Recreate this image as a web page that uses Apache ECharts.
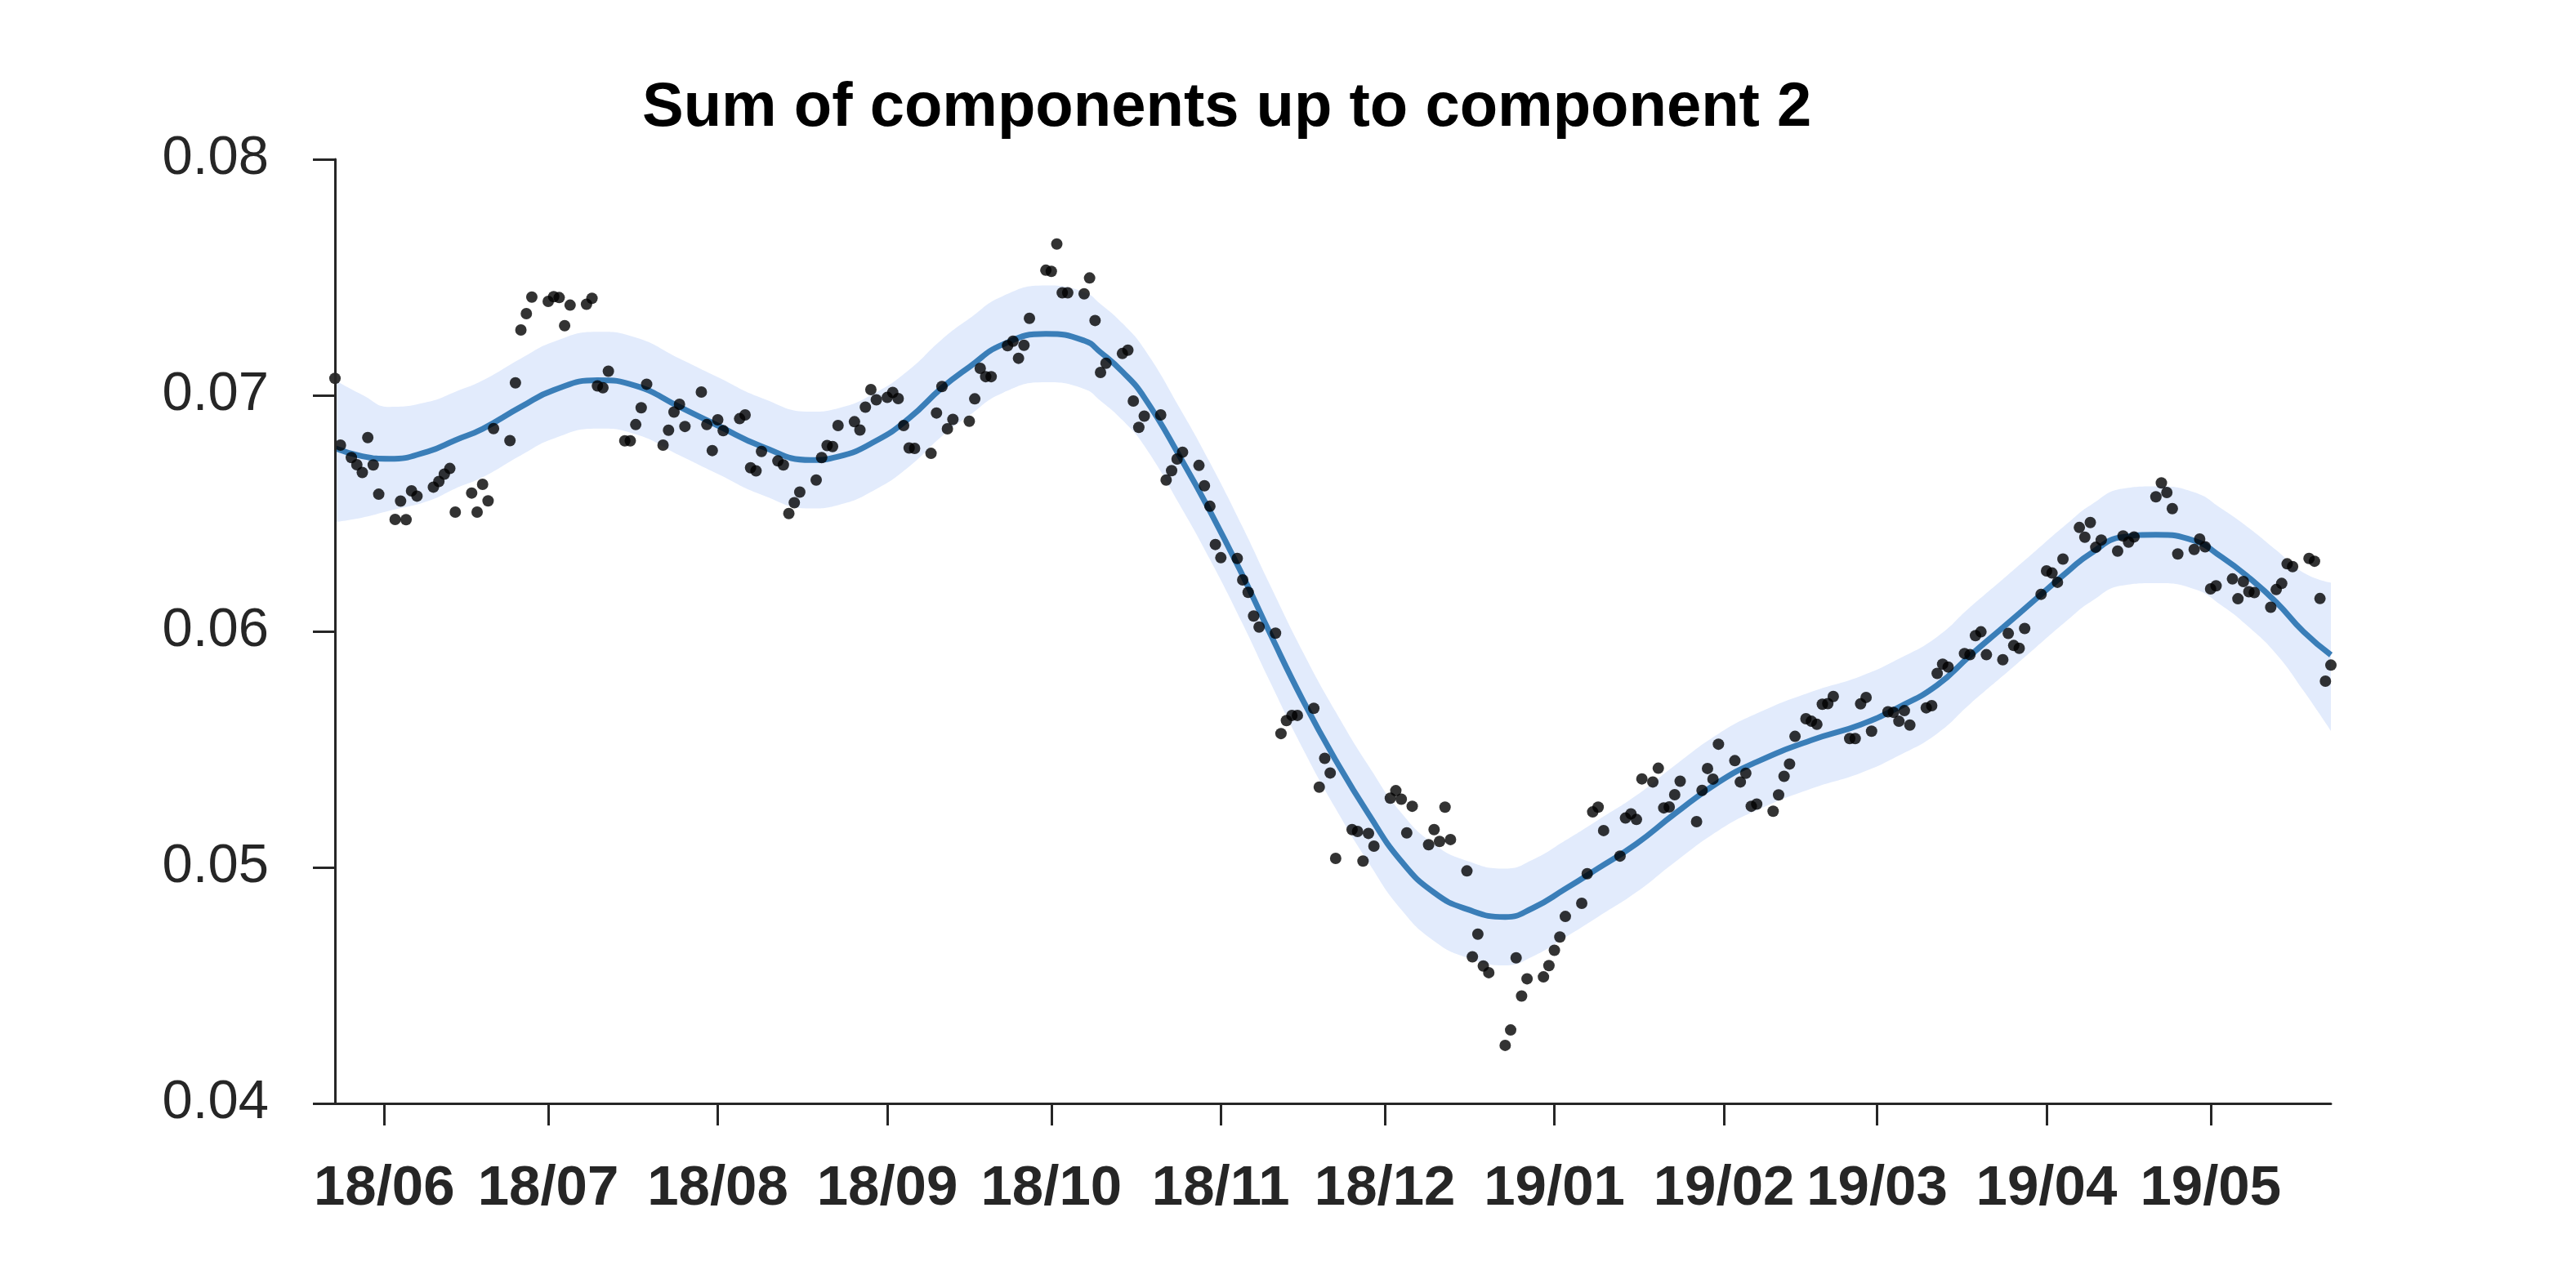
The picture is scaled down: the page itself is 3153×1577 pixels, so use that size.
<!DOCTYPE html>
<html>
<head>
<meta charset="utf-8">
<script src="https://cdn.jsdelivr.net/npm/echarts@6/dist/echarts.min.js"></script>
<style>
html,body{margin:0;padding:0;background:#ffffff;}
#chart{width:3153px;height:1577px;}
</style>
</head>
<body>
<div id="chart"></div>
<script>
// ---------- data ----------
const titleText = 'Sum of components up to component 2';

const obsDates = [
'2018-05-23','2018-05-24','2018-05-26','2018-05-27','2018-05-28','2018-05-29','2018-05-30','2018-05-31',
'2018-06-03','2018-06-04','2018-06-05','2018-06-06','2018-06-07',
'2018-06-10','2018-06-11','2018-06-12','2018-06-13','2018-06-14',
'2018-06-17','2018-06-18','2018-06-19','2018-06-20','2018-06-21',
'2018-06-24','2018-06-25','2018-06-26','2018-06-27','2018-06-28',
'2018-07-01','2018-07-02','2018-07-03','2018-07-04','2018-07-05',
'2018-07-08','2018-07-09','2018-07-10','2018-07-11','2018-07-12',
'2018-07-15','2018-07-16','2018-07-17','2018-07-18','2018-07-19',
'2018-07-22','2018-07-23','2018-07-24','2018-07-25','2018-07-26',
'2018-07-29','2018-07-30','2018-07-31','2018-08-01','2018-08-02',
'2018-08-05','2018-08-06','2018-08-07','2018-08-08','2018-08-09',
'2018-08-12','2018-08-13','2018-08-14','2018-08-15','2018-08-16',
'2018-08-19','2018-08-20','2018-08-21','2018-08-22','2018-08-23',
'2018-08-26','2018-08-27','2018-08-28','2018-08-29','2018-08-30',
'2018-09-01','2018-09-02','2018-09-03','2018-09-04','2018-09-05','2018-09-06',
'2018-09-09','2018-09-10','2018-09-11','2018-09-12','2018-09-13',
'2018-09-16','2018-09-17','2018-09-18','2018-09-19','2018-09-20',
'2018-09-23','2018-09-24','2018-09-25','2018-09-26','2018-09-27',
'2018-09-30','2018-10-01','2018-10-02','2018-10-03','2018-10-04',
'2018-10-07','2018-10-08','2018-10-09','2018-10-10','2018-10-11',
'2018-10-14','2018-10-15','2018-10-16','2018-10-17','2018-10-18',
'2018-10-21','2018-10-22','2018-10-23','2018-10-24','2018-10-25',
'2018-10-28','2018-10-29','2018-10-30','2018-10-31','2018-11-01',
'2018-11-04','2018-11-05','2018-11-06','2018-11-07','2018-11-08',
'2018-11-11','2018-11-12','2018-11-13','2018-11-14','2018-11-15',
'2018-11-18','2018-11-19','2018-11-20','2018-11-21','2018-11-22',
'2018-11-25','2018-11-26','2018-11-27','2018-11-28','2018-11-29',
'2018-12-02','2018-12-03','2018-12-04','2018-12-05','2018-12-06',
'2018-12-09','2018-12-10','2018-12-11','2018-12-12','2018-12-13',
'2018-12-16','2018-12-17','2018-12-18','2018-12-19','2018-12-20',
'2018-12-23','2018-12-24','2018-12-25','2018-12-26','2018-12-27',
'2018-12-30','2018-12-31','2019-01-01','2019-01-02','2019-01-03',
'2019-01-06','2019-01-07','2019-01-08','2019-01-09','2019-01-10',
'2019-01-13','2019-01-14','2019-01-15','2019-01-16','2019-01-17',
'2019-01-19','2019-01-20','2019-01-21','2019-01-22','2019-01-23','2019-01-24',
'2019-01-27','2019-01-28','2019-01-29','2019-01-30','2019-01-31',
'2019-02-03','2019-02-04','2019-02-05','2019-02-06','2019-02-07',
'2019-02-10','2019-02-11','2019-02-12','2019-02-13','2019-02-14',
'2019-02-16','2019-02-17','2019-02-18','2019-02-19','2019-02-20','2019-02-21',
'2019-02-24','2019-02-25','2019-02-26','2019-02-27','2019-02-28',
'2019-03-03','2019-03-04','2019-03-05','2019-03-06','2019-03-07',
'2019-03-10','2019-03-11','2019-03-12','2019-03-13','2019-03-14',
'2019-03-17','2019-03-18','2019-03-19','2019-03-20','2019-03-21',
'2019-03-24','2019-03-25','2019-03-26','2019-03-27','2019-03-28',
'2019-03-31','2019-04-01','2019-04-02','2019-04-03','2019-04-04',
'2019-04-07','2019-04-08','2019-04-09','2019-04-10','2019-04-11',
'2019-04-14','2019-04-15','2019-04-16','2019-04-17',
'2019-04-21','2019-04-22','2019-04-23','2019-04-24','2019-04-25',
'2019-04-28','2019-04-29','2019-04-30','2019-05-01','2019-05-02',
'2019-05-05','2019-05-06','2019-05-07','2019-05-08','2019-05-09',
'2019-05-12','2019-05-13','2019-05-14','2019-05-15','2019-05-16',
'2019-05-19','2019-05-20','2019-05-21','2019-05-22','2019-05-23'
];

const obsValues = [
0.07072,0.06789,0.06736,0.06706,0.06673,0.06821,0.06705,0.06581,
0.06474,0.06552,0.06473,0.06595,0.06573,
0.06611,0.06635,0.06666,0.06690,0.06505,
0.06586,0.06505,0.06623,0.06553,0.06859,
0.06808,0.07053,0.07277,0.07346,0.07416,
0.07398,0.07418,0.07414,0.07295,0.07382,
0.07386,0.07411,0.07040,0.07032,0.07102,
0.06807,0.06807,0.06876,0.06947,0.07047,
0.06789,0.06852,0.06929,0.06962,0.06868,
0.07014,0.06876,0.06766,0.06896,0.06850,
0.06901,0.06917,0.06693,0.06680,0.06762,
0.06722,0.06705,0.06499,0.06545,0.06590,
0.06641,0.06736,0.06787,0.06783,0.06872,
0.06888,0.06853,0.06950,0.07024,0.06981,
0.06991,0.07012,0.06986,0.06872,0.06777,0.06775,
0.06754,0.06925,0.07037,0.06858,0.06898,
0.06890,0.06985,0.07114,0.07079,0.07079,
0.07210,0.07229,0.07157,0.07212,0.07326,
0.07530,0.07525,0.07641,0.07434,0.07434,
0.07430,0.07497,0.07317,0.07097,0.07136,
0.07177,0.07191,0.06976,0.06864,0.06912,
0.06917,0.06641,0.06681,0.06730,0.06759,
0.06703,0.06617,0.06530,0.06368,0.06312,
0.06309,0.06218,0.06165,0.06065,0.06018,
0.05992,0.05567,0.05622,0.05644,0.05644,
0.05674,0.05340,0.05462,0.05400,0.05038,
0.05160,0.05152,0.05027,0.05144,0.05090,
0.05293,0.05325,0.05289,0.05146,0.05259,
0.05096,0.05160,0.05110,0.05255,0.05118,
0.04985,0.04621,0.04717,0.04582,0.04554,
0.04246,0.04311,0.04617,0.04455,0.04528,
0.04536,0.04584,0.04649,0.04705,0.04792,
0.04848,0.04973,0.05235,0.05255,0.05156,
0.05048,0.05209,0.05227,0.05203,0.05375,
0.05362,0.05420,0.05252,0.05256,0.05308,0.05365,
0.05194,0.05326,0.05419,0.05374,0.05522,
0.05452,0.05362,0.05399,0.05259,0.05268,
0.05238,0.05307,0.05386,0.05438,0.05555,
0.05630,0.05619,0.05606,0.05691,0.05694,0.05724,
0.05546,0.05546,0.05693,0.05720,0.05577,
0.05659,0.05657,0.05619,0.05664,0.05603,
0.05676,0.05685,0.05822,0.05861,0.05849,
0.05906,0.05901,0.05982,0.05998,0.05901,
0.05880,0.05991,0.05940,0.05928,0.06012,
0.06157,0.06256,0.06247,0.06208,0.06306,
0.06440,0.06399,0.06461,0.06356,0.06387,
0.06340,0.06404,0.06378,0.06400,
0.06570,0.06629,0.06588,0.06520,0.06328,
0.06347,0.06391,0.06358,0.06180,0.06193,
0.06222,0.06138,0.06211,0.06168,0.06164,
0.06102,0.06177,0.06203,0.06286,0.06274,
0.06309,0.06297,0.06139,0.05789,0.05857
];

const fitDates = [
'2018-05-23','2018-05-28','2018-06-02','2018-06-09','2018-06-14','2018-06-19','2018-06-26',
'2018-07-02','2018-07-10','2018-07-17','2018-07-25','2018-08-01','2018-08-09','2018-08-18',
'2018-08-23','2018-08-30','2018-09-05','2018-09-11','2018-09-16','2018-09-22','2018-09-30',
'2018-10-07','2018-10-10','2018-10-14','2018-10-18','2018-10-25','2018-10-30','2018-11-05',
'2018-11-10','2018-11-16','2018-11-22','2018-11-28','2018-12-04','2018-12-10','2018-12-16',
'2018-12-23','2018-12-28','2019-01-03','2019-01-09','2019-01-16','2019-01-23','2019-01-31',
'2019-02-07','2019-02-17','2019-02-26','2019-03-05','2019-03-12','2019-03-18','2019-03-24',
'2019-03-30','2019-04-05','2019-04-09','2019-04-15','2019-04-21','2019-04-28','2019-05-03',
'2019-05-08','2019-05-13','2019-05-18','2019-05-23'
];

const fitMean = [
0.06776,0.06742,0.06731,0.06762,0.06810,0.06858,0.06951,
0.07022,0.07064,0.07040,0.06951,0.06872,0.06784,0.06726,
0.06740,0.06808,0.06903,0.07032,0.07120,0.07214,0.07260,
0.07232,0.07182,0.07100,0.06991,0.06720,0.06510,0.06236,
0.05991,0.05708,0.05454,0.05226,0.05026,0.04893,0.04823,
0.04790,0.04827,0.04909,0.04996,0.05100,0.05227,0.05361,
0.05447,0.05539,0.05605,0.05679,0.05772,0.05897,0.06016,
0.06136,0.06256,0.06329,0.06400,0.06409,0.06384,0.06315,
0.06228,0.06124,0.05998,0.05900
];

const fitUpper = [
0.07064,0.07002,0.06951,0.06972,0.07015,0.07063,0.07156,
0.07227,0.07269,0.07245,0.07156,0.07077,0.06989,0.06931,
0.06945,0.07013,0.07108,0.07237,0.07325,0.07419,0.07465,
0.07437,0.07387,0.07305,0.07196,0.06925,0.06715,0.06441,
0.06196,0.05913,0.05659,0.05431,0.05231,0.05098,0.05028,
0.04995,0.05032,0.05114,0.05201,0.05305,0.05432,0.05566,
0.05652,0.05744,0.05810,0.05884,0.05977,0.06102,0.06221,
0.06341,0.06461,0.06534,0.06605,0.06614,0.06589,0.06520,
0.06438,0.06344,0.06248,0.06206
];

const fitLower = [
0.06463,0.06482,0.06511,0.06552,0.06605,0.06653,0.06746,
0.06817,0.06859,0.06835,0.06746,0.06667,0.06579,0.06521,
0.06535,0.06603,0.06698,0.06827,0.06915,0.07009,0.07055,
0.07027,0.06977,0.06895,0.06786,0.06515,0.06305,0.06031,
0.05786,0.05503,0.05249,0.05021,0.04821,0.04688,0.04618,
0.04585,0.04622,0.04704,0.04791,0.04895,0.05022,0.05156,
0.05242,0.05334,0.05400,0.05474,0.05567,0.05692,0.05811,
0.05931,0.06051,0.06124,0.06195,0.06204,0.06179,0.06110,
0.06018,0.05904,0.05748,0.05578
];

const monthTicks = ['2018-06-01','2018-07-01','2018-08-01','2018-09-01','2018-10-01','2018-11-01',
                    '2018-12-01','2019-01-01','2019-02-01','2019-03-01','2019-04-01','2019-05-01'];
const tickLabels = ['18/06','18/07','18/08','18/09','18/10','18/11','18/12','19/01','19/02','19/03','19/04','19/05'];
const xRange = ['2018-05-23','2019-05-23'];
const yTicks = [0.04,0.05,0.06,0.07,0.08];

// ---------- build ----------
function ts(s){ const p = s.split('-').map(Number); return Date.UTC(p[0], p[1]-1, p[2]); }
const tickTs = monthTicks.map(ts);
const obsData = obsDates.map((d,i)=>[ts(d), obsValues[i]]);
const meanData = fitDates.map((d,i)=>[ts(d), fitMean[i]]);
const upperData = fitDates.map((d,i)=>[ts(d), fitUpper[i]]);
const lowerData = fitDates.map((d,i)=>[ts(d), fitLower[i]]);

const FONT = '"Liberation Sans", Arial, Helvetica, sans-serif';
const AX = '#262626';

const chart = echarts.init(document.getElementById('chart'), null, {renderer:'canvas'});
chart.setOption({
  animation: false,
  backgroundColor: '#ffffff',
  title: {
    text: titleText,
    left: 781, top: 90,
    textStyle: {fontFamily: FONT, fontSize: 76, fontWeight: 'bold', color: '#000000'}
  },
  grid: {left: 410, top: 195, width: 2443, height: 1156, containLabel: false},
  xAxis: {
    type: 'value',
    min: ts(xRange[0]), max: ts(xRange[1]),
    z: 10,
    axisLine: {show: true, lineStyle: {color: AX, width: 3}},
    axisTick: {show: true, inside: false, length: 27, lineStyle: {color: AX, width: 3}, customValues: tickTs},
    axisLabel: {
      show: true, customValues: tickTs, margin: 70,
      fontFamily: FONT, fontSize: 69, fontWeight: 'bold', color: AX,
      formatter: function(v){ const i = tickTs.indexOf(v); return i >= 0 ? tickLabels[i] : ''; }
    },
    splitLine: {show: false}
  },
  yAxis: {
    type: 'value',
    min: yTicks[0], max: yTicks[yTicks.length-1], interval: 0.01,
    z: 10,
    axisLine: {show: true, lineStyle: {color: AX, width: 3}},
    axisTick: {show: true, inside: false, length: 27, lineStyle: {color: AX, width: 3}},
    axisLabel: {
      margin: 81, fontFamily: FONT, fontSize: 67, color: AX,
      formatter: function(v){ return v.toFixed(2); }
    },
    splitLine: {show: false}
  },
  series: [
    {
      name: 'upper', type: 'line', data: upperData, smooth: 0.5, symbol: 'none', z: 1,
      lineStyle: {width: 0, opacity: 0},
      areaStyle: {color: 'rgb(226,235,252)', opacity: 1, origin: 'start'},
      silent: true
    },
    {
      name: 'lower', type: 'line', data: lowerData, smooth: 0.5, symbol: 'none', z: 1,
      lineStyle: {width: 0, opacity: 0},
      areaStyle: {color: '#ffffff', opacity: 1, origin: 'start'},
      silent: true
    },
    {
      name: 'mean', type: 'line', data: meanData, smooth: 0.5, symbol: 'none', z: 3,
      lineStyle: {color: '#3a7eb8', width: 7}
    },
    {
      name: 'obs', type: 'scatter', data: obsData, symbol: 'circle', symbolSize: 14, z: 4,
      itemStyle: {color: '#000000', borderWidth: 0}
    }
  ]
});
</script>
</body>
</html>
